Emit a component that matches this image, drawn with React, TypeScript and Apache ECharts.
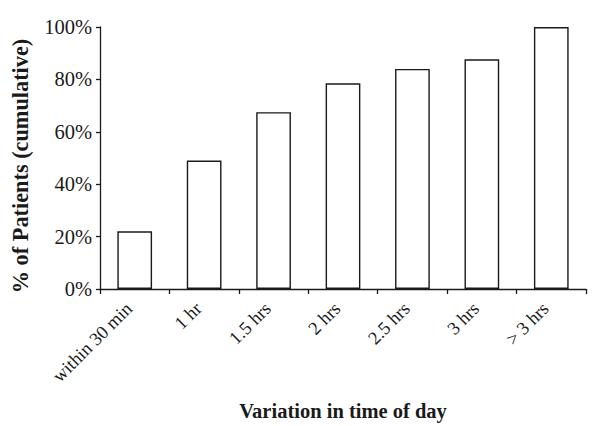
import React, { useEffect, useRef } from "react";
import * as echarts from "echarts";

const categories = ["within 30 min", "1 hr", "1.5 hrs", "2 hrs", "2.5 hrs", "3 hrs", "> 3 hrs"];
const values = [22, 49, 67.5, 78.5, 84, 87.7, 100];
const yTicks = { min: 0, max: 100, interval: 20 };
const xTitle = "Variation in time of day";
const yTitle = "% of Patients (cumulative)";

const FONT = "'Liberation Serif', 'Times New Roman', serif";
const INK = "#1a1a1a";

export default function App() {
  const ref = useRef<HTMLDivElement>(null);
  useEffect(() => {
    if (!ref.current) return;
    const chart = echarts.init(ref.current, undefined, { renderer: "svg" });
    chart.setOption({
      animation: false,
      backgroundColor: "#ffffff",
      grid: { left: 100, right: 14, top: 27, bottom: 137 },
      xAxis: {
        type: "category",
        data: categories,
        name: xTitle,
        nameLocation: "middle",
        nameGap: 111,
        nameTextStyle: { fontFamily: FONT, fontSize: 20.5, fontWeight: "bold", color: INK },
        axisLine: { lineStyle: { color: INK, width: 1.3 } },
        axisTick: { show: true, length: 5, lineStyle: { color: INK, width: 1.3 } },
        axisLabel: {
          rotate: 45,
          margin: 11,
          fontFamily: FONT,
          fontSize: 18.5,
          color: INK,
          interval: 0,
          padding: [0, 8, 0, 0],
        },
        splitLine: { show: false },
      },
      yAxis: {
        type: "value",
        min: yTicks.min,
        max: yTicks.max,
        interval: yTicks.interval,
        name: yTitle,
        nameLocation: "middle",
        nameGap: 69,
        nameTextStyle: {
          fontFamily: FONT,
          fontSize: 22.3,
          fontWeight: "bold",
          color: INK,
          padding: [0, 16, 0, 0],
        },
        axisLine: { show: true, lineStyle: { color: INK, width: 1.3 } },
        axisTick: { show: true, length: 4, lineStyle: { color: INK, width: 1.3 } },
        axisLabel: { formatter: "{value}%", fontFamily: FONT, fontSize: 20.5, color: INK, margin: 8 },
        splitLine: { show: false },
      },
      series: [
        {
          type: "bar",
          data: values,
          barWidth: "50%",
          itemStyle: { color: "#ffffff", borderColor: INK, borderWidth: 1.4 },
        },
      ],
    });
    return () => chart.dispose();
  }, []);
  return <div ref={ref} style={{ width: 600, height: 426, position: "absolute", left: 0, top: 0 }} />;
}
